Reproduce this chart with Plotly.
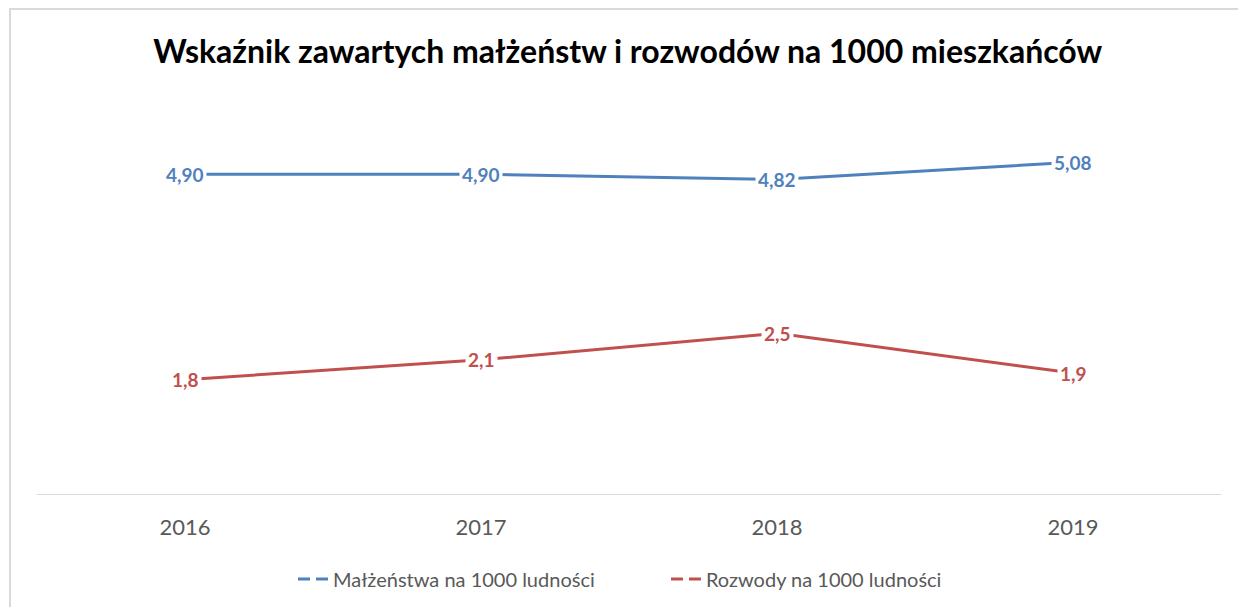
import plotly.graph_objects as go

years = ["2016", "2017", "2018", "2019"]
malzenstwa = [4.90, 4.90, 4.82, 5.08]
rozwody = [1.8, 2.1, 2.5, 1.9]
malzenstwa_labels = ["4,90", "4,90", "4,82", "5,08"]
rozwody_labels = ["1,8", "2,1", "2,5", "1,9"]

BLUE = "#4F81BD"
RED = "#C0504D"
GRAY_TXT = "#595959"
FONT = "Lato, 'Open Sans', sans-serif"

fig = go.Figure()

# real lines (legend handled by the dummy traces below)
fig.add_trace(go.Scatter(x=years, y=malzenstwa, mode="lines",
                         line=dict(color=BLUE, width=3), showlegend=False,
                         hoverinfo="skip"))
fig.add_trace(go.Scatter(x=years, y=rozwody, mode="lines",
                         line=dict(color=RED, width=3), showlegend=False,
                         hoverinfo="skip"))

# legend entries mimic Excel's "— —" glyph
fig.add_trace(go.Scatter(x=[None], y=[None], mode="lines", name="Małżeństwa na 1000 ludności",
                         line=dict(color=BLUE, width=3, dash="12px,6px")))
fig.add_trace(go.Scatter(x=[None], y=[None], mode="lines", name="Rozwody na 1000 ludności",
                         line=dict(color=RED, width=3, dash="12px,6px")))

# data labels with white background, like Excel (category index positions)
annotations = []
for series, labels, color in [(malzenstwa, malzenstwa_labels, BLUE),
                              (rozwody, rozwody_labels, RED)]:
    for i, (v, t) in enumerate(zip(series, labels)):
        annotations.append(dict(x=i, y=v, xref="x", yref="y", text="<b>" + t + "</b>",
                                showarrow=False,
                                font=dict(family=FONT, size=19, color=color),
                                bgcolor="white", borderpad=2))

fig.update_layout(
    width=1238,
    height=607,
    margin=dict(l=37, r=17, t=101, b=113, autoexpand=False),
    paper_bgcolor="white",
    plot_bgcolor="white",
    font=dict(family=FONT, color=GRAY_TXT),
    title=dict(
        text="<b>Wskaźnik zawartych małżeństw i rozwodów na 1000 mieszkańców</b>",
        x=0.507, xanchor="center", y=0.914, yanchor="middle",
        font=dict(family=FONT, size=32, color="black"),
    ),
    xaxis=dict(
        type="category",
        range=[-0.5, 3.5],
        showgrid=False,
        zeroline=False,
        showline=True,
        linecolor="#D9D9D9",
        linewidth=1,
        ticks="",
        ticklabelstandoff=14,
        tickfont=dict(family=FONT, size=22, color=GRAY_TXT),
    ),
    yaxis=dict(
        range=[0.075, 6.005],
        visible=False,
    ),
    legend=dict(
        orientation="h",
        x=0.2162, xanchor="left",
        y=-0.216, yanchor="middle",
        font=dict(family=FONT, size=20, color=GRAY_TXT),
        itemwidth=30,
        entrywidth=328,
        entrywidthmode="pixels",
        traceorder="normal",
    ),
    annotations=annotations,
    shapes=[dict(type="rect", xref="paper", yref="paper",
                 x0=-0.0228, x1=1.05, y0=-0.4, y1=1.234,
                 line=dict(color="#D9D9D9", width=2), layer="below")],
)

fig.write_html("out.html", config={"displayModeBar": False},
               post_script="document.body.style.margin='0';")
